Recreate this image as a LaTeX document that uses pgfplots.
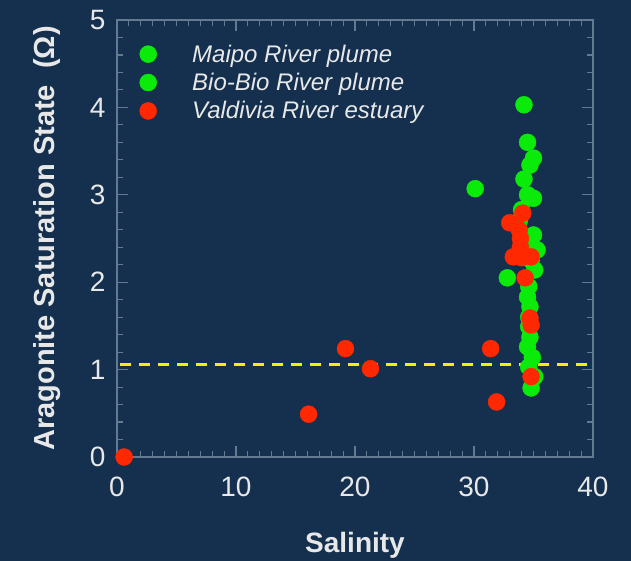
\documentclass[border=0pt]{standalone}
\usepackage{fontspec}
\setmainfont{Liberation Sans}
\usepackage{pgfplots}
\pgfplotsset{compat=1.18}
\definecolor{bg}{RGB}{20,48,78}
\definecolor{axgrey}{RGB}{100,122,145}
\definecolor{pgreen}{RGB}{10,235,10}
\definecolor{pred}{RGB}{255,40,0}
\definecolor{lyellow}{RGB}{245,240,0}
\definecolor{txt}{RGB}{232,232,232}
\begin{document}
\begin{tikzpicture}[x=1pt,y=1pt]
\fill[bg] (0,0) rectangle (631,561);
\begin{axis}[
  at={(117pt,104pt)}, anchor=south west,
  scale only axis, width=476pt, height=437pt,
  xmin=0, xmax=40, ymin=0, ymax=5,
  clip=false,
  axis line style={axgrey, line width=1.2pt},
  every tick/.style={axgrey, line width=1.1pt},
  tick align=inside,
  major tick length=11pt, minor tick length=6pt,
  xtick={0,10,20,30,40}, ytick={0,1,2,3,4,5},
  minor x tick num=9, minor y tick num=4,
  ticklabel style={font=\fontsize{28}{34}\selectfont, text=txt},
  /pgf/number format/assume math mode=true,
  xticklabel style={yshift=-16pt},
  yticklabel style={xshift=-8pt},
  xlabel={Salinity}, ylabel={Aragonite Saturation State\ \ (Ω)},
  label style={font=\fontsize{28}{34}\selectfont\bfseries, text=txt},
  ylabel style={font=\fontsize{29}{34}\selectfont\bfseries},
  xlabel style={at={(axis description cs:0.5,0)}, anchor=base, yshift=-96pt},
  ylabel style={at={(axis description cs:-0.1303,0.5)}, anchor=base},
  legend cell align=left,
  legend style={draw=none, fill=none, at={(axis description cs:0,1)}, anchor=north west,
    xshift=22.5pt, yshift=-24.5pt, inner sep=0pt, row sep=9.5pt, column sep=35.5pt,
    nodes={inner sep=0pt},
    font=\fontsize{24}{29}\selectfont\itshape, text=txt},
]
\addplot[only marks, mark=*, mark size=8.5pt, color=pgreen] coordinates {
(34.2,4.03) (34.5,3.60) (35.0,3.42) (34.7,3.34) (34.2,3.18) (34.5,3.00) (35.0,2.96)
(34.0,2.83) (35.0,2.54) (35.3,2.37) (35.1,2.14) (34.6,1.95) (34.5,1.83) (34.7,1.72)
};
\addlegendentry{Maipo River plume}
\addplot[only marks, mark=*, mark size=8.5pt, color=pgreen] coordinates {
(30.1,3.07) (32.8,2.05) (34.6,1.49) (34.7,1.37) (34.5,1.26) (34.9,1.14) (34.6,1.03)
(35.1,0.92) (34.8,0.79) (34.6,1.60) (34.8,2.25) (33.8,2.70) (34.3,2.45)
};
\addlegendentry{Bio-Bio River plume}
\addplot[only marks, mark=*, mark size=8.5pt, color=pred] coordinates {
(0.6,0.0) (16.1,0.49) (19.2,1.24) (21.3,1.01) (31.4,1.24) (31.9,0.63) (34.1,2.79)
(33.0,2.68) (33.8,2.60) (33.9,2.50) (33.9,2.40) (33.7,2.30) (33.3,2.29) (34.0,2.28)
(34.8,2.29) (34.3,2.05) (34.7,1.59) (34.8,1.51) (34.8,0.92)
};
\addlegendentry{Valdivia River estuary}
\addplot[forget plot, lyellow, line width=3pt, dash pattern=on 11pt off 8pt] coordinates {(0.25,1.06) (40,1.06)};
\end{axis}
\pgfresetboundingbox
\useasboundingbox (0,0) rectangle (631,561);
\end{tikzpicture}
\end{document}
